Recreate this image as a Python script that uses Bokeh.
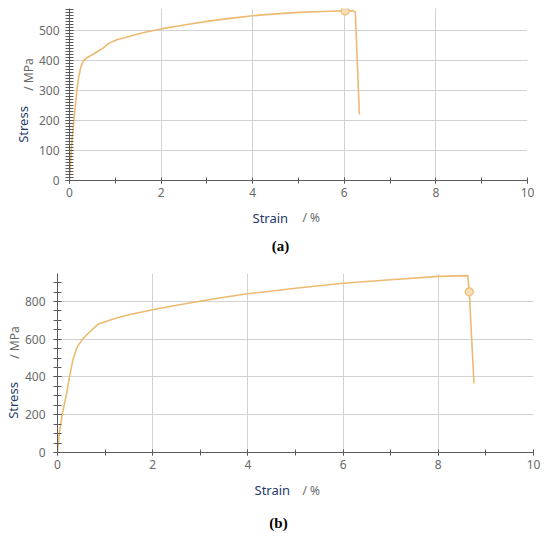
import math
from bokeh.plotting import figure
from bokeh.models import Range1d, SingleIntervalTicker, Label
from bokeh.layouts import column, row
from bokeh.embed import file_html
from bokeh.resources import INLINE

# ---- data ----
strain_a = [0, 0.02, 0.036, 0.065, 0.095, 0.13, 0.16, 0.2, 0.25, 0.31, 0.38, 0.44, 0.55, 0.65,
            0.74, 0.8, 0.87, 1.05, 1.3, 1.6, 2.0, 2.5, 3.0, 3.5, 4.0, 4.5, 5.0, 5.5, 6.02,
            6.2, 6.24, 6.33]
stress_a = [0, 50, 100, 150, 200, 250, 300, 344, 380, 400, 409, 414, 424, 433,
            442, 450, 458, 470, 480, 492, 505, 518, 530, 540, 549, 555, 560, 563, 565,
            565, 562, 220]
peak_a_strain = [6.02]
peak_a_stress = [565]

strain_b = [0, 0.035, 0.1, 0.19, 0.25, 0.32, 0.41, 0.53, 0.67, 0.86, 1.19, 1.5, 2.0, 2.5,
            3.02, 3.5, 4.0, 4.6, 5.0, 6.0, 7.0, 8.0, 8.62, 8.65, 8.75]
stress_b = [0, 97, 203, 310, 398, 487, 558, 602, 637, 681, 708, 730, 756, 780,
            802, 822, 841, 858, 870, 896, 915, 933, 937, 851, 365]
peak_b_strain = [8.65]
peak_b_stress = [851]

x_label = "Strain"
x_unit = "/ %"
y_label = "Stress"
y_unit = "/ MPa"
captions = ["(a)", "(b)"]

LINE = "#EDBA72"
FILL = "#F7DDB6"
NAVY = "#1F3A68"
GRAY = "#6a6a6a"
FONT = "Noto Sans"


def make_panel(xs, ys, px, py, ymax, ystep, yminor, width, height,
               bl, br, bt, bb, lab_pos, sides, ystandoff, caption):
    p = figure(width=width, height=height, output_backend="svg", toolbar_location=None,
               x_range=Range1d(0, 10), y_range=Range1d(0, ymax),
               min_border_left=bl, min_border_right=br, min_border_top=bt, min_border_bottom=bb)
    p.outline_line_color = None
    p.background_fill_color = "white"
    p.border_fill_color = "white"

    xt = SingleIntervalTicker(interval=2, num_minor_ticks=2)
    yt = SingleIntervalTicker(interval=ystep, num_minor_ticks=yminor)
    p.xaxis.ticker = xt
    p.yaxis.ticker = yt
    p.xgrid.ticker = xt
    p.ygrid.ticker = yt
    for g in (p.xgrid, p.ygrid):
        g.grid_line_color = "#d2d2d2"
        g.grid_line_width = 1

    for ax in (p.xaxis, p.yaxis):
        ax.axis_line_color = "#5a5a5a"
        ax.major_tick_line_color = "#5a5a5a"
        ax.minor_tick_line_color = "#5a5a5a"
        ax.major_label_text_font = FONT
        ax.major_label_text_font_size = "12px"
        ax.major_label_text_color = GRAY
    p.xaxis.major_tick_in = 0
    p.xaxis.major_tick_out = 3
    p.xaxis.minor_tick_in = 3
    p.xaxis.minor_tick_out = 3
    p.xaxis.major_label_standoff = 4
    p.yaxis.major_tick_in = 4
    p.yaxis.major_tick_out = 4
    p.yaxis.minor_tick_in = 4
    p.yaxis.minor_tick_out = 4
    p.yaxis.major_label_standoff = ystandoff

    p.line(xs, ys, line_color=LINE, line_width=1.6)
    p.scatter(px, py, marker="circle", size=8, line_color=LINE, fill_color=FILL, line_width=1.2)

    (sx, sy), (ux, uy), (cx, cy), (yx, yy), (mx, my) = lab_pos
    s_strain, s_unit, s_cap, s_stress, s_mpa = sides
    common = dict(x_units="canvas", y_units="canvas", text_baseline="middle")
    p.add_layout(Label(x=sx, y=sy, text=x_label, text_font=FONT, text_font_size="13px",
                       text_color=NAVY, text_align="left", **common), s_strain)
    p.add_layout(Label(x=ux, y=uy, text=x_unit, text_font=FONT, text_font_size="12px",
                       text_color=GRAY, text_align="left", **common), s_unit)
    p.add_layout(Label(x=cx, y=cy, text=caption, text_font="Liberation Serif",
                       text_font_size="15px", text_font_style="bold", text_color="black",
                       text_align="center", **common), s_cap)
    p.add_layout(Label(x=yx, y=yy, text=y_label, text_font=FONT, text_font_size="13px",
                       text_color=NAVY, text_align="center", angle=math.pi / 2, **common),
                 s_stress)
    p.add_layout(Label(x=mx, y=my, text=y_unit, text_font=FONT, text_font_size="12px",
                       text_color=GRAY, text_align="center", angle=math.pi / 2, **common),
                 s_mpa)
    return p


# figure-pixel positions (from top-left of each figure)
pa = make_panel(strain_a, stress_a, peak_a_strain, peak_a_stress, 573, 100, 10,
                550, 255, 67, 23, 8, 75,
                [(252, 217), (302, 217), (280, 245), (22, 124), (28, 74)],
                ["below", "right", "below", "left", "left"], 6, captions[0])
pb = make_panel(strain_b, stress_b, peak_b_strain, peak_b_stress, 948, 200, 4,
                550, 276, 57, 16, 18, 79,
                [(254, 234), (302, 235), (278, 267), (12, 145), (14, 87)],
                ["below", "above", "below", "left", "right"], 8, captions[1])

layout = column(row(pa), row(pb), spacing=0)
open("out.html", "w").write(file_html(layout, INLINE))
